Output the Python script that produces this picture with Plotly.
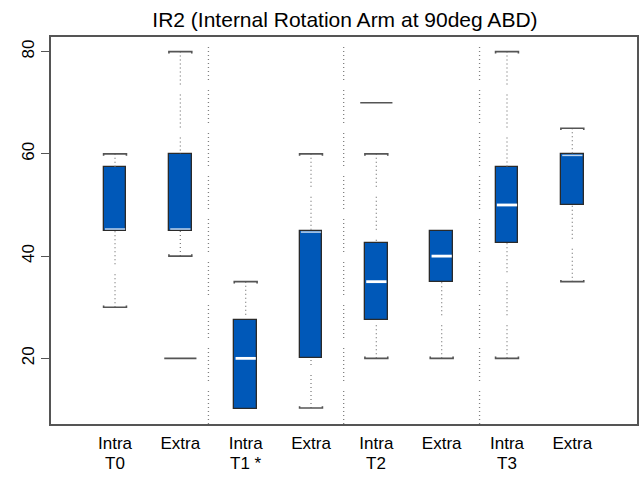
import plotly.graph_objects as go

# ---- data ----
categories = ["Intra", "Extra", "Intra", "Extra", "Intra", "Extra", "Intra", "Extra"]
time_labels = ["T0", "T1 *", "T2", "T3"]
time_positions = [1, 3, 5, 7]
positions = [1, 2, 3, 4, 5, 6, 7, 8]
lower_whisker = [30, 40, 10, 10.3, 20, 20, 20, 35]
q1 = [45, 45, 10, 20, 27.5, 35, 42.5, 50]
median = [45, 45, 20, 45, 35, 40, 50, 60]
q3 = [57.5, 60, 27.5, 45, 42.5, 45, 57.5, 60]
upper_whisker = [60, 80, 35, 60, 60, 45, 80, 65]
outlier_x = [2, 5]
outlier_y = [20, 70]
separators = [2.43, 4.5, 6.58]
y_ticks = [20, 40, 60, 80]

BOX_W = 0.35
BLUE = "#0058B8"
EDGE = "#2a2a2a"
GREY = "#555555"
WHISK = "#808080"
FONT = "Liberation Sans, Arial, sans-serif"
NARROW = "Liberation Sans Narrow, Arial Narrow, Liberation Sans, sans-serif"

dash_pat = ",".join(["1px,3px"] * 8) + ",1px,10px"

fig = go.Figure()

# separators
for s in separators:
    fig.add_shape(type="line", xref="x", yref="paper", x0=s, x1=s, y0=0, y1=1,
                  line=dict(color=WHISK, width=1.3, dash=dash_pat), layer="below")

cap_d = 0.35
for i, c in enumerate(positions):
    # whiskers (dotted)
    if upper_whisker[i] > q3[i]:
        fig.add_trace(go.Scatter(x=[c, c], y=[upper_whisker[i], q3[i]], mode="lines",
                                 line=dict(color=WHISK, width=1.3, dash=dash_pat),
                                 hoverinfo="skip", showlegend=False))
        fig.add_trace(go.Scatter(x=[c - BOX_W / 2, c - BOX_W / 2, c + BOX_W / 2, c + BOX_W / 2],
                                 y=[upper_whisker[i] - cap_d, upper_whisker[i], upper_whisker[i], upper_whisker[i] - cap_d],
                                 mode="lines", line=dict(color=GREY, width=1.6),
                                 hoverinfo="skip", showlegend=False))
    if lower_whisker[i] < q1[i]:
        fig.add_trace(go.Scatter(x=[c, c], y=[lower_whisker[i], q1[i]], mode="lines",
                                 line=dict(color=WHISK, width=1.3, dash=dash_pat),
                                 hoverinfo="skip", showlegend=False))
        fig.add_trace(go.Scatter(x=[c - BOX_W / 2, c - BOX_W / 2, c + BOX_W / 2, c + BOX_W / 2],
                                 y=[lower_whisker[i] + cap_d, lower_whisker[i], lower_whisker[i], lower_whisker[i] + cap_d],
                                 mode="lines", line=dict(color=GREY, width=1.6),
                                 hoverinfo="skip", showlegend=False))

# boxes
fig.add_trace(go.Bar(x=positions, base=q1, y=[b - a for a, b in zip(q1, q3)], width=BOX_W,
                     marker=dict(color=BLUE, line=dict(color=EDGE, width=1.3)),
                     hoverinfo="skip", showlegend=False))

# medians
for i, c in enumerate(positions):
    m = median[i]
    edge = m in (q1[i], q3[i])
    if m <= q1[i]:
        m = m + 0.3
    elif m >= q3[i]:
        m = m - 0.3
    fig.add_trace(go.Scatter(x=[c - BOX_W / 2 + 0.02, c + BOX_W / 2 - 0.02], y=[m, m], mode="lines",
                             line=dict(color="white", width=1.5 if edge else 2.8),
                             opacity=0.75 if edge else 1,
                             hoverinfo="skip", showlegend=False))

# outliers
fig.add_trace(go.Scatter(x=outlier_x, y=outlier_y, mode="markers",
                         marker=dict(symbol="line-ew", size=23, line=dict(color=GREY, width=1.6)),
                         hoverinfo="skip", showlegend=False))

# second line of the x labels
for tx, tl in zip(time_positions, time_labels):
    fig.add_annotation(x=tx, xref="x", y=-0.101, yref="paper", yanchor="middle", xanchor="center",
                       text=tl, showarrow=False, font=dict(family=NARROW, size=17, color="black"))

fig.update_layout(
    width=640, height=484,
    margin=dict(l=51, r=1, t=37, b=60),
    paper_bgcolor="white", plot_bgcolor="white",
    title=dict(text="IR2 (Internal Rotation Arm at 90deg ABD)", x=0.539, xanchor="center",
               y=0.960, yanchor="middle", font=dict(family=FONT, size=21, color="black")),
    font=dict(family=FONT, color="black"),
    bargap=0,
)
fig.update_xaxes(range=[0.02, 8.99], tickmode="array", tickvals=positions, ticktext=categories,
                 showgrid=False, zeroline=False, showline=True, mirror=True,
                 linecolor=GREY, linewidth=1.6, ticks="", tickfont=dict(size=17, family=NARROW),
                 ticklabelstandoff=3)
fig.update_yaxes(range=[7.16, 82.86], tickmode="array", tickvals=y_ticks,
                 showgrid=False, zeroline=False, showline=True, mirror=True,
                 linecolor=GREY, linewidth=1.6, ticks="outside", ticklen=8, tickcolor=GREY,
                 tickwidth=1.3, tickangle=-90, tickfont=dict(size=17, family=FONT),
                 ticklabelstandoff=0)

fig.write_html("out.html")
